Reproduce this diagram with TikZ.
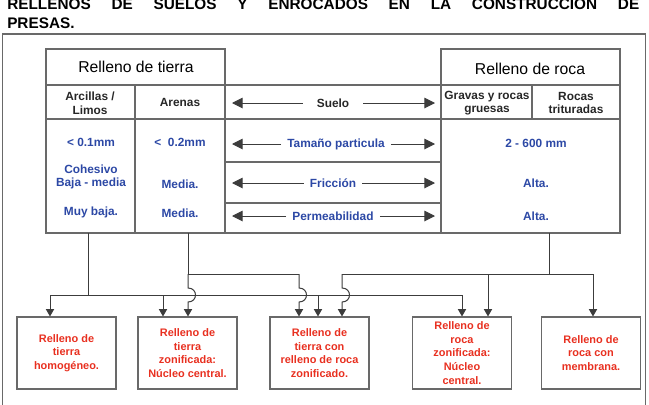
\documentclass[tikz,border=0pt]{standalone}
\usepackage{fontspec}
\setmainfont{Liberation Sans}
\usetikzlibrary{arrows.meta}
\definecolor{tblue}{RGB}{44,72,165}
\definecolor{tred}{RGB}{232,48,32}
\definecolor{lgray}{RGB}{105,105,105}
\definecolor{dgray}{RGB}{60,60,60}
\begin{document}
\begin{tikzpicture}[x=0.75pt,y=-0.75pt,
  grid/.style={draw=lgray, line width=0.8pt},
  conn/.style={draw=dgray, line width=0.75pt},
  arr/.style={conn, -{Triangle[length=5.6pt,width=6.2pt]}},
  marr/.style={conn, -{Triangle[length=8pt,width=8pt]}},
  btxt/.style={text=tblue, font=\bfseries\fontsize{8.9}{10.2}\selectfont, align=center, inner sep=0pt},
  ktxt/.style={btxt, text=black!85},
  mtxt/.style={btxt, inner xsep=4.5pt},
  ttl/.style={font=\fontsize{11.8}{14}\selectfont, inner sep=0pt},
  res/.style={draw=lgray, line width=0.8pt, minimum width=74.25pt, minimum height=54pt,
     text=tred, font=\bfseries\fontsize{8.2}{10.3}\selectfont, align=center, inner sep=0.5pt},
]
\useasboundingbox (0,0) rectangle (649,404);
\clip (0,0) rectangle (649,404);

% title
\node[anchor=north west, text width=474pt, inner sep=0pt, align=justify,
      font=\bfseries\fontsize{11.5}{14.2}\selectfont] (title) at (7,-1)
  {RELLENOS DE SUELOS Y ENROCADOS EN LA CONSTRUCCION DE\linebreak PRESAS.};

% outer frame
\draw[draw=lgray, line width=1pt] (2.5,34) rectangle (645.5,430);

% table grid
\draw[grid] (46,49) rectangle (225,233);
\draw[grid] (441,49) rectangle (620,233);
\draw[grid] (46,85) -- (620,85);
\draw[grid] (46,119) -- (620,119);
\draw[grid] (46,233) -- (620,233);
\draw[grid] (135,85) -- (135,233);
\draw[grid] (532,85) -- (532,119);
\draw[grid] (225,162) -- (441,162);
\draw[grid] (225,203) -- (441,203);

% headers
\node[ttl] (rt) at (136,67) {Relleno de tierra};
\node[ttl] (rr) at (530,69) {Relleno de roca};
\node[ktxt] (arc) at (90,103) {Arcillas /\\Limos};
\node[ktxt] (are) at (180,102) {Arenas};
\node[ktxt] (gra) at (487,103) {Gravas y rocas\\gruesas};
\node[ktxt] (roc) at (576,103) {Rocas\\trituradas};

% values
\node[btxt] (v1) at (91,142) {< 0.1mm};
\node[btxt] (v2) at (180,142) {<\ \ 0.2mm};
\node[btxt] (v3) at (91,177) {Cohesivo\\Baja - media};
\node[btxt] (v4) at (180,184) {Media.};
\node[btxt] (v5) at (91,212) {Muy baja.};
\node[btxt] (v6) at (180,213) {Media.};
\node[btxt] (v7) at (536,143) {2 - 600 mm};
\node[btxt] (v8) at (536,183) {Alta.};
\node[btxt] (v9) at (536,216) {Alta.};

% middle arrows
\node[mtxt, text=black!85, inner xsep=10.5pt] (suelo) at (333,103) {Suelo};
\node[mtxt] (tam) at (336,144) {Tamaño particula};
\node[mtxt] (fri) at (333,183) {Fricción};
\node[mtxt] (per) at (333,216) {Permeabilidad};
\foreach \n in {suelo,tam,fri,per}{
  \coordinate (\n L) at (\n.west -| 232,0);
  \coordinate (\n R) at (\n.east -| 435,0);
  \draw[marr] (\n.west) -- (\n L);
  \draw[marr] (\n.east) -- (\n R);
}

% result boxes
\node[res] (box1) at (66.5,353) {Relleno de\\tierra\\homogéneo.};
\node[res] (box2) at (187.5,353) {Relleno de\\tierra\\zonificada:\\Núcleo central.};
\node[res] (box3) at (319.5,353) {Relleno de\\tierra con\\relleno de roca\\zonificado.};
\node[res] (box4) at (462,353) {Relleno de\\roca\\zonificada:\\Núcleo\\central.};
\node[res] (box5) at (591,353) {Relleno de\\roca con\\membrana.};

% net from Arcillas / Limos
\coordinate (pA) at (88,233);
\coordinate (hC) at (88,295);
\coordinate (t1) at (50,295);
\coordinate (t2) at (163,295);
\coordinate (t3) at (318,295);
\coordinate (t4) at (462,295);
\draw[conn] (pA) -- (hC);
\draw[conn] (t1) -- (t4);
\draw[arr] (t1) -- (t1 |- box1.north);
\draw[arr] (t2) -- (t2 |- box2.north);
\draw[arr] (t3) -- (t3 |- box3.north);
\draw[arr] (t4) -- (t4 |- box4.north);

% net from Arenas
\coordinate (pB) at (188,233);
\coordinate (hA) at (188,274);
\coordinate (hA2) at (299,274);
\draw[conn] (pB) -- (hA) -- (hA2);
\draw[arr] (hA) -- (188,288) .. controls (198,288) and (198,302) .. (188,302) -- (hA |- box2.north);
\draw[arr] (hA2) -- (299,288) .. controls (309,288) and (309,302) .. (299,302) -- (hA2 |- box3.north);

% net from Relleno de roca
\coordinate (pC) at (549,233);
\coordinate (hB) at (549,274);
\coordinate (hB1) at (342,274);
\coordinate (hB3) at (488,274);
\coordinate (hB2) at (593,274);
\draw[conn] (pC) -- (hB);
\draw[conn] (hB1) -- (hB2);
\draw[arr] (hB1) -- (342,288) .. controls (352,288) and (352,302) .. (342,302) -- (hB1 |- box3.north);
\draw[arr] (hB3) -- (hB3 |- box4.north);
\draw[arr] (hB2) -- (hB2 |- box5.north);
\end{tikzpicture}
\end{document}
